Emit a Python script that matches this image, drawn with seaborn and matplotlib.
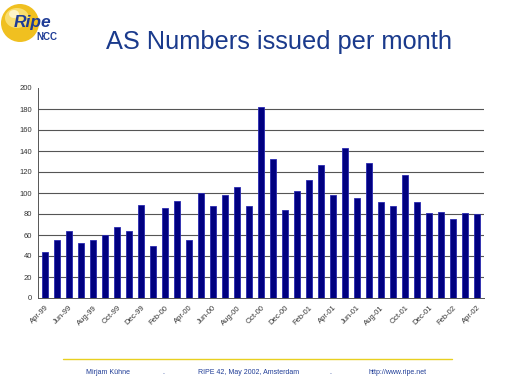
import matplotlib
matplotlib.use('Agg')
import matplotlib.pyplot as plt
import seaborn as sns
import pandas as pd
from matplotlib.patches import Ellipse
from matplotlib.lines import Line2D

# monthly AS number assignments, Apr-99 .. Apr-02
months = ['Apr-99', 'May-99', 'Jun-99', 'Jul-99', 'Aug-99', 'Sep-99', 'Oct-99', 'Nov-99', 'Dec-99',
          'Jan-00', 'Feb-00', 'Mar-00', 'Apr-00', 'May-00', 'Jun-00', 'Jul-00', 'Aug-00', 'Sep-00',
          'Oct-00', 'Nov-00', 'Dec-00', 'Jan-01', 'Feb-01', 'Mar-01', 'Apr-01', 'May-01', 'Jun-01',
          'Jul-01', 'Aug-01', 'Sep-01', 'Oct-01', 'Nov-01', 'Dec-01', 'Jan-02', 'Feb-02', 'Mar-02',
          'Apr-02']
issued = [44, 55, 64, 52, 55, 60, 68, 64, 89,
          50, 86, 92, 55, 100, 88, 98, 106, 88,
          182, 132, 84, 102, 112, 127, 98, 143, 95,
          129, 91, 88, 117, 91, 81, 82, 75, 81,
          80]
y_ticks = list(range(0, 201, 20))

df = pd.DataFrame({'month': months, 'issued': issued})

sns.set_style('white')
plt.rcParams['font.family'] = ['Liberation Sans', 'DejaVu Sans']

fig = plt.figure(figsize=(5.12, 3.84), dpi=100)
ax = fig.add_axes([38 / 512, 1 - 298 / 384, 446 / 512, 210 / 384])

sns.barplot(data=df, x='month', y='issued', color='#000080', width=0.5,
            edgecolor='#2a2ab0', linewidth=0.6, saturation=1, ax=ax)

ax.set_ylim(0, 200)
ax.set_xlim(-0.6, len(months) - 0.4)
ax.set_yticks(y_ticks)
ax.set_yticklabels([str(v) for v in y_ticks], fontsize=5.5, color='#333333')
ax.set_xticks(range(0, len(months), 2))
ax.set_xticklabels(months[::2], rotation=45, ha='right', fontsize=5.5,
                   color='#333333', rotation_mode='anchor')
ax.tick_params(axis='both', length=2.5, width=0.6, color='#555555', pad=2)
ax.set_xlabel('')
ax.set_ylabel('')
# gridlines 20..180 only (no line at the top)
for v in y_ticks[1:-1]:
    ax.axhline(v, color='#555555', linewidth=0.8, zorder=0)
sns.despine(ax=ax, top=True, right=True)
for s in ['left', 'bottom']:
    ax.spines[s].set_color('#555555')
    ax.spines[s].set_linewidth(0.7)

# title
fig.text(279 / 512, 1 - 42 / 384, 'AS Numbers issued per month', ha='center', va='center',
         fontsize=18.3, color='#1a3a8c')

# logo
fig.patches.append(Ellipse((20 / 512, 1 - 23 / 384), 38 / 512, 38 / 384,
                           transform=fig.transFigure, facecolor='#f0c020',
                           edgecolor='none', zorder=1))
fig.patches.append(Ellipse((17 / 512, 1 - 18 / 384), 24 / 512, 20 / 384,
                           transform=fig.transFigure, facecolor='#f9de70',
                           edgecolor='none', zorder=1))
fig.patches.append(Ellipse((14 / 512, 1 - 14 / 384), 10 / 512, 8 / 384,
                           transform=fig.transFigure, facecolor='#fdf3c8',
                           edgecolor='none', zorder=1))
fig.text(33 / 512, 1 - 23 / 384, 'Ripe', ha='center', va='center', fontsize=12.5,
         fontweight='bold', fontstyle='italic', color='#1f3c96', zorder=3)
fig.text(47 / 512, 1 - 37 / 384, 'NCC', ha='center', va='center', fontsize=7,
         fontweight='bold', color='#1f3c96', zorder=3)

# footer
fig.lines.append(Line2D([63 / 512, 452 / 512], [1 - 359 / 384, 1 - 359 / 384],
                        transform=fig.transFigure, color='#e8d020', linewidth=1.0))
foot_y = 1 - 372 / 384
fig.text(108 / 512, foot_y, 'Mirjam Kühne', ha='center', va='center', fontsize=5, color='#1f3c96')
fig.text(163 / 512, foot_y, '.', ha='center', va='center', fontsize=5, color='#1f3c96')
fig.text(249 / 512, foot_y, 'RIPE 42, May 2002, Amsterdam', ha='center', va='center', fontsize=5, color='#1f3c96')
fig.text(330 / 512, foot_y, '.', ha='center', va='center', fontsize=5, color='#1f3c96')
fig.text(398 / 512, foot_y, 'http://www.ripe.net', ha='center', va='center', fontsize=5, color='#1f3c96')

fig.savefig('out.png', dpi=100)
